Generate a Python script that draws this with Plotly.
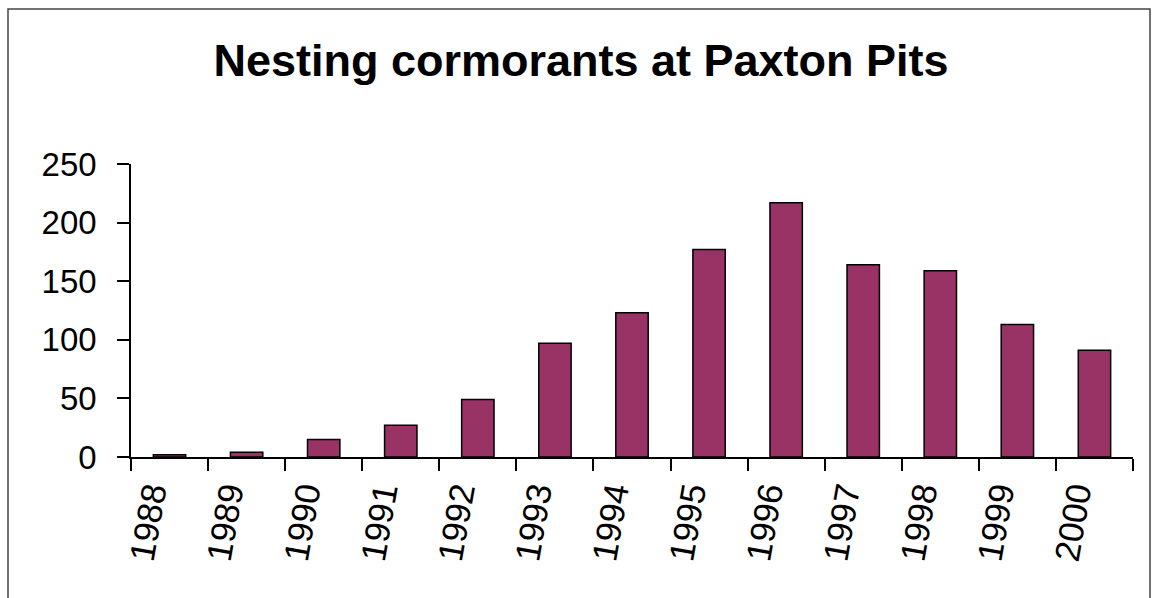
import plotly.graph_objects as go

years = ["1988", "1989", "1990", "1991", "1992", "1993", "1994",
         "1995", "1996", "1997", "1998", "1999", "2000"]
nests = [2, 4, 15, 27, 49, 97, 123, 177, 217, 164, 159, 113, 91]
y_ticks = [0, 50, 100, 150, 200, 250]

W, H = 1154, 598
L, R, T, B = 131, 21, 164, 141
pw, ph = W - L - R, H - T - B

def px_x(p):
    return (p - L) / pw

def px_y(p):
    return (H - B - p) / ph

fig = go.Figure(go.Bar(
    x=years, y=nests,
    marker=dict(color="#993366", line=dict(color="black", width=1.5)),
))

fig.update_layout(
    width=W, height=H,
    margin=dict(l=L, r=R, t=T, b=B),
    paper_bgcolor="white", plot_bgcolor="white",
    bargap=0.58,
    showlegend=False,
    font=dict(family="Liberation Sans, Arial, sans-serif", color="black"),
    title=dict(text="<b>Nesting cormorants at Paxton Pits</b>",
               x=(205 + 957) / 2 / W, xanchor="center", y=1 - 60 / H, yanchor="middle",
               xref="container", yref="container", font=dict(size=45, color="black")),
)
fig.update_yaxes(
    range=[0, 250], tickvals=y_ticks, showgrid=False, zeroline=False,
    showline=True, linecolor="black", linewidth=1.5,
    ticks="outside", ticklen=12, tickwidth=1.5, tickcolor="black",
    tickfont=dict(size=33), ticklabelstandoff=14,
)
fig.update_xaxes(
    showgrid=False, showline=True, linecolor="black", linewidth=1.5,
    ticks="outside", ticklen=12, tickwidth=1.5, tickcolor="black",
    tickson="boundaries", tickangle=-80, tickfont=dict(size=35),
    ticklabelshift=-20,
)
fig.add_shape(type="rect", xref="paper", yref="paper",
              x0=px_x(8), x1=px_x(1150), y0=px_y(602), y1=px_y(9),
              line=dict(color="#444444", width=1.5), fillcolor="rgba(0,0,0,0)",
              layer="below")

fig.write_html("out.html")
